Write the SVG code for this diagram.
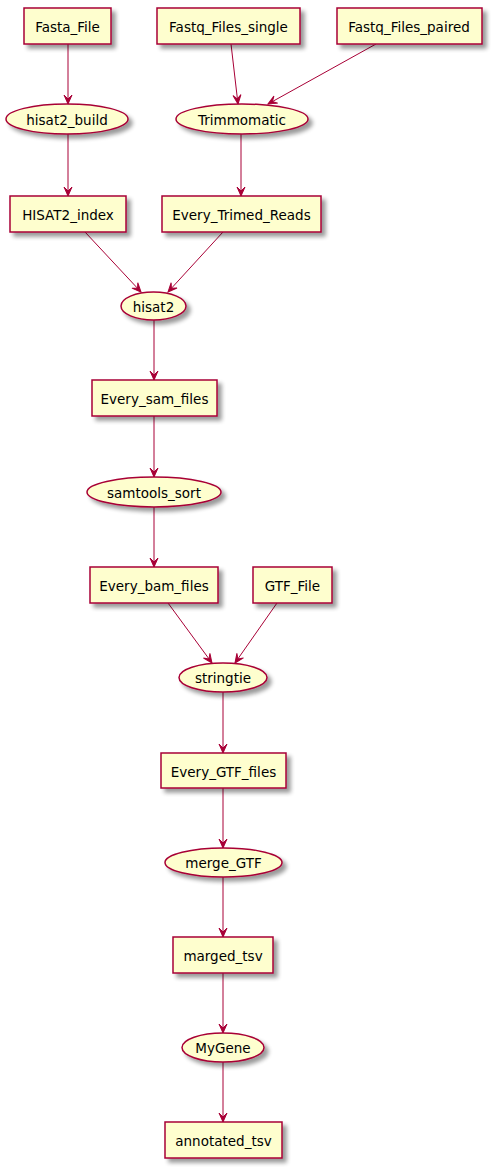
<svg xmlns="http://www.w3.org/2000/svg" width="492" height="1168" viewBox="0 0 492 1168">
<defs>
<filter id="sh" x="-20%" y="-30%" width="150%" height="180%">
<feGaussianBlur in="SourceAlpha" stdDeviation="2"/>
<feOffset dx="4" dy="4" result="b"/>
<feComponentTransfer><feFuncA type="linear" slope="0.4"/></feComponentTransfer>
<feMerge><feMergeNode/><feMergeNode in="SourceGraphic"/></feMerge>
</filter>
<marker id="ah" viewBox="-10 -5 11 10" refX="0" refY="0" markerWidth="11" markerHeight="10" markerUnits="userSpaceOnUse" orient="auto">
<path d="M0,0 L-9,-4 L-5,0 L-9,4 Z" fill="#A80036" stroke="#A80036" stroke-width="1"/>
</marker>
</defs>
<style>
.n{fill:#FEFECE;stroke:#A80036;stroke-width:1.5;filter:url(#sh)}
.t{font-family:"DejaVu Sans",Verdana,sans-serif;font-size:13.5px;fill:#000;text-anchor:middle}
.e{stroke:#A80036;stroke-width:1;fill:none;marker-end:url(#ah)}
</style>
<rect width="492" height="1168" fill="#FFFFFF"/>
<g id="connectors">
<line class="e" x1="68" y1="44" x2="68" y2="104"/>
<line class="e" x1="231" y1="44" x2="238" y2="104"/>
<line class="e" x1="376" y1="44" x2="268" y2="104"/>
<line class="e" x1="68" y1="134" x2="68" y2="196"/>
<line class="e" x1="241" y1="134" x2="241" y2="196"/>
<line class="e" x1="85" y1="232" x2="141" y2="292"/>
<line class="e" x1="223" y1="232" x2="168" y2="292"/>
<line class="e" x1="154" y1="320" x2="154" y2="380"/>
<line class="e" x1="154" y1="416" x2="154" y2="477"/>
<line class="e" x1="154" y1="507" x2="154" y2="567"/>
<line class="e" x1="168" y1="603" x2="212" y2="663"/>
<line class="e" x1="277" y1="603" x2="235" y2="663"/>
<line class="e" x1="223" y1="692" x2="223" y2="753"/>
<line class="e" x1="223" y1="788" x2="223" y2="848"/>
<line class="e" x1="223" y1="877" x2="223" y2="937"/>
<line class="e" x1="223" y1="973" x2="223" y2="1033"/>
<line class="e" x1="223" y1="1062" x2="223" y2="1122"/>
</g>
<g id="Fasta_File"><rect class="n" x="24" y="8" width="87" height="36"/><text class="t" x="67.5" y="32">Fasta_File</text></g>
<g id="Fastq_Files_single"><rect class="n" x="157" y="8" width="143" height="36"/><text class="t" x="228.5" y="32">Fastq_Files_single</text></g>
<g id="Fastq_Files_paired"><rect class="n" x="337" y="8" width="145" height="36"/><text class="t" x="409" y="32">Fastq_Files_paired</text></g>
<g id="hisat2_build"><ellipse class="n" cx="67" cy="119" rx="61" ry="15"/><text class="t" x="67" y="124.5">hisat2_build</text></g>
<g id="Trimmomatic"><ellipse class="n" cx="242" cy="119" rx="66" ry="15"/><text class="t" x="242" y="124.5">Trimmomatic</text></g>
<g id="HISAT2_index"><rect class="n" x="10" y="196" width="116" height="36"/><text class="t" x="68" y="220">HISAT2_index</text></g>
<g id="Every_Trimed_Reads"><rect class="n" x="162" y="196" width="159" height="36"/><text class="t" x="241.5" y="220">Every_Trimed_Reads</text></g>
<g id="hisat2"><ellipse class="n" cx="153.5" cy="306" rx="32.5" ry="14"/><text class="t" x="153.5" y="311.5">hisat2</text></g>
<g id="Every_sam_files"><rect class="n" x="92" y="380" width="125" height="36"/><text class="t" x="154.5" y="404">Every_sam_files</text></g>
<g id="samtools_sort"><ellipse class="n" cx="154" cy="492" rx="67" ry="15"/><text class="t" x="154" y="497.5">samtools_sort</text></g>
<g id="Every_bam_files"><rect class="n" x="90" y="567" width="128" height="36"/><text class="t" x="154" y="591">Every_bam_files</text></g>
<g id="GTF_File"><rect class="n" x="253" y="567" width="79" height="36"/><text class="t" x="292.5" y="591">GTF_File</text></g>
<g id="stringtie"><ellipse class="n" cx="223" cy="677.5" rx="44" ry="14.5"/><text class="t" x="223" y="683">stringtie</text></g>
<g id="Every_GTF_files"><rect class="n" x="161" y="753" width="125" height="35"/><text class="t" x="223.5" y="776.5">Every_GTF_files</text></g>
<g id="merge_GTF"><ellipse class="n" cx="223.5" cy="862.5" rx="58.5" ry="14.5"/><text class="t" x="223.5" y="868">merge_GTF</text></g>
<g id="marged_tsv"><rect class="n" x="173" y="937" width="100" height="36"/><text class="t" x="223" y="961">marged_tsv</text></g>
<g id="MyGene"><ellipse class="n" cx="223" cy="1047.5" rx="41" ry="14.5"/><text class="t" x="223" y="1053">MyGene</text></g>
<g id="annotated_tsv"><rect class="n" x="165" y="1122" width="117" height="36"/><text class="t" x="223.5" y="1146">annotated_tsv</text></g>
</svg>
